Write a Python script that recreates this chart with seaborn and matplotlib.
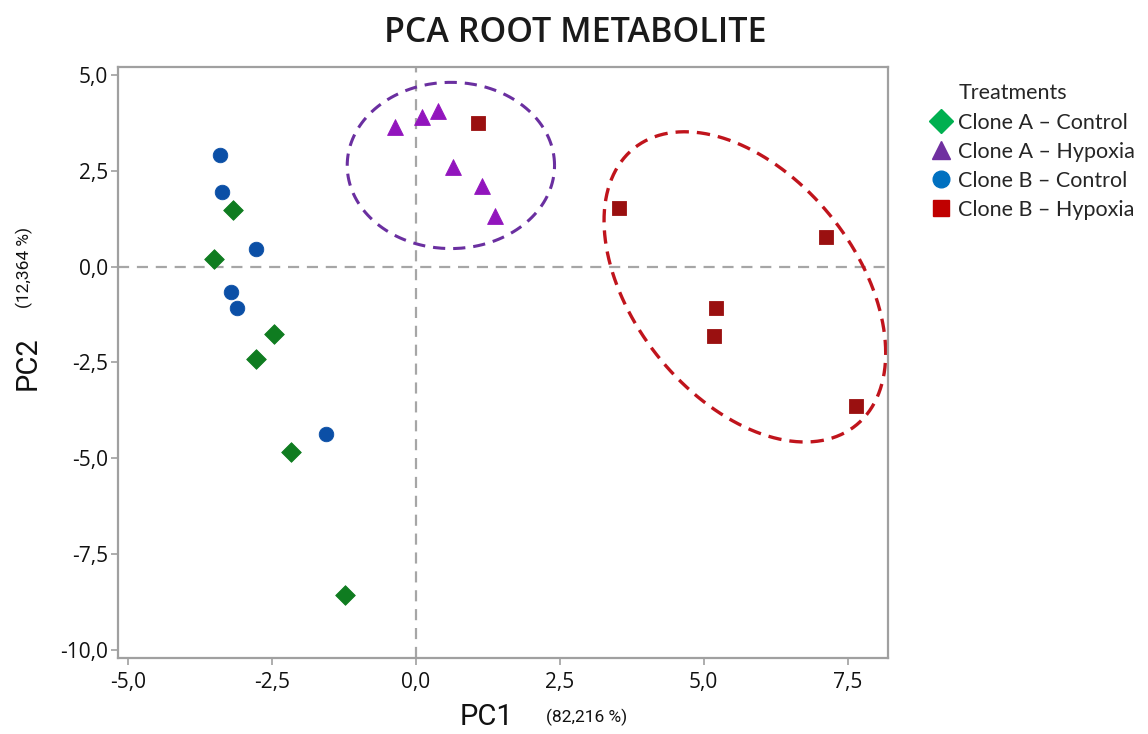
import numpy as np
import pandas as pd
import matplotlib
matplotlib.use("Agg")
import matplotlib.pyplot as plt
from matplotlib.lines import Line2D
import seaborn as sns

# ---------------- data ----------------
groups = ["Clone A – Control", "Clone A – Hypoxia", "Clone B – Control", "Clone B – Hypoxia"]
a_control_pc1 = [-3.17, -3.50, -2.46, -2.78, -2.17, -1.23]
a_control_pc2 = [1.47, 0.20, -1.77, -2.41, -4.85, -8.58]
a_hypoxia_pc1 = [-0.36, 0.10, 0.39, 0.65, 1.15, 1.37]
a_hypoxia_pc2 = [3.65, 3.91, 4.06, 2.59, 2.10, 1.31]
b_control_pc1 = [-3.40, -3.36, -2.78, -3.21, -3.11, -1.56]
b_control_pc2 = [2.90, 1.95, 0.46, -0.66, -1.08, -4.36]
b_hypoxia_pc1 = [1.08, 3.53, 7.13, 5.21, 5.18, 7.64]
b_hypoxia_pc2 = [3.76, 1.52, 0.78, -1.07, -1.81, -3.64]

x_ticks = [-5.0, -2.5, 0.0, 2.5, 5.0, 7.5]
x_tick_labels = ["-5,0", "-2,5", "0,0", "2,5", "5,0", "7,5"]
y_ticks = [-10.0, -7.5, -5.0, -2.5, 0.0, 2.5, 5.0]
y_tick_labels = ["-10,0", "-7,5", "-5,0", "-2,5", "0,0", "2,5", "5,0"]

# confidence ellipses (centre, covariance)
hyp_a_center = [0.61, 2.64]
hyp_a_cov = [[1.80 ** 2, 0.0], [0.0, 2.17 ** 2]]
hyp_b_center = [5.715, -0.53]
hyp_b_cov = [[5.98, -4.23], [-4.23, 16.40]]

# ---------------- style ----------------
point_colors = {groups[0]: "#0f7c20", groups[1]: "#9215bd",
                groups[2]: "#0b4fa6", groups[3]: "#9a1010"}
legend_colors = ["#00b050", "#7030a0", "#0070c0", "#c00000"]
markers = {groups[0]: "D", groups[1]: "^", groups[2]: "o", groups[3]: "s"}
sizes_pt = {groups[0]: 100, groups[1]: 130, groups[2]: 110, groups[3]: 100}

df = pd.concat([
    pd.DataFrame({"PC1": a_control_pc1, "PC2": a_control_pc2, "g": groups[0]}),
    pd.DataFrame({"PC1": a_hypoxia_pc1, "PC2": a_hypoxia_pc2, "g": groups[1]}),
    pd.DataFrame({"PC1": b_control_pc1, "PC2": b_control_pc2, "g": groups[2]}),
    pd.DataFrame({"PC1": b_hypoxia_pc1, "PC2": b_hypoxia_pc2, "g": groups[3]}),
], ignore_index=True)

sns.set_theme(style="white")
plt.rcParams["font.family"] = ["Open Sans", "DejaVu Sans"]

fig = plt.figure(figsize=(11.48, 7.34), dpi=100)
ax = fig.add_axes([0.1028, 0.1035, 0.6707, 0.8052])

ax.axhline(0, color="#a6a6a6", lw=1.6, ls=(0, (5, 3.5)), zorder=1)
ax.axvline(0, color="#a6a6a6", lw=1.6, ls=(0, (5, 3.5)), zorder=1)


def draw_ellipse(center, cov, color, lw, dash):
    L = np.linalg.cholesky(np.array(cov))
    t = np.linspace(0, 2 * np.pi, 300)
    pts = np.array(center)[:, None] + L @ np.vstack([np.cos(t), np.sin(t)])
    ax.plot(pts[0], pts[1], color=color, lw=lw, ls=(0, dash), zorder=2)


draw_ellipse(hyp_a_center, hyp_a_cov, "#6a2fa0", 2.2, (4, 2.6))
draw_ellipse(hyp_b_center, hyp_b_cov, "#c0141c", 2.4, (4, 2.4))

for gname in groups:
    sub = df[df["g"] == gname]
    sns.scatterplot(data=sub, x="PC1", y="PC2", ax=ax, color=point_colors[gname],
                    marker=markers[gname], s=sizes_pt[gname], linewidth=0.6,
                    edgecolor=point_colors[gname], legend=False, zorder=3)

ax.set_xlim(-5.17, 8.2)
ax.set_ylim(-10.22, 5.21)
ax.set_xticks(x_ticks)
ax.set_xticklabels(x_tick_labels)
ax.set_yticks(y_ticks)
ax.set_yticklabels(y_tick_labels)
tick_font = ["Open Sans", "DejaVu Sans"]
label_font = ["Roboto", "DejaVu Sans"]
for lab in ax.get_xticklabels() + ax.get_yticklabels():
    lab.set_family(tick_font)
    lab.set_fontsize(15)
    lab.set_fontweight("medium")
    lab.set_color("#111111")
ax.tick_params(axis="both", which="major", direction="out", length=5, width=1.2,
               color="#a0a0a0", bottom=True, left=True)
ax.tick_params(axis="x", pad=5)
ax.tick_params(axis="y", pad=2)
for sp in ax.spines.values():
    sp.set_color("#a0a0a0")
    sp.set_linewidth(1.6)
ax.set_xlabel("")
ax.set_ylabel("")

# axis titles
fig.text(0.4235, 0.023, "PC1", fontsize=21, family=label_font, color="#111111",
         ha="center", va="center")
fig.text(0.4755, 0.022, "(82,216 %)", fontsize=12.5, family=label_font, color="#111111",
         ha="left", va="center")
fig.text(0.012, 0.505, "PC2", fontsize=21, family=label_font, color="#111111",
         rotation=90, ha="left", va="center")
fig.text(0.0135, 0.635, "(12,364 %)", fontsize=12.5, family=label_font, color="#111111",
         rotation=90, ha="left", va="center")

# title
fig.text(0.501, 0.955, "PCA ROOT METABOLITE", fontsize=24.5, fontweight="semibold",
         color="#1a1a1a", ha="center", va="center")

# legend
handles = [Line2D([], [], linestyle="none", marker="")]
for gname, c in zip(groups, legend_colors):
    handles.append(Line2D([], [], linestyle="none", marker=markers[gname],
                          markersize=12 if markers[gname] != "^" else 13,
                          markerfacecolor=c, markeredgecolor=c))
labels = ["Treatments"] + groups
fig.legend(handles, labels, loc="upper left", bbox_to_anchor=(0.803, 0.898),
           frameon=False, handlelength=1.0, handletextpad=0.3,
           labelspacing=0.42, borderaxespad=0,
           prop={"family": ["Lato", "DejaVu Sans"], "size": 15.5})

fig.savefig("out.png", dpi=100)
